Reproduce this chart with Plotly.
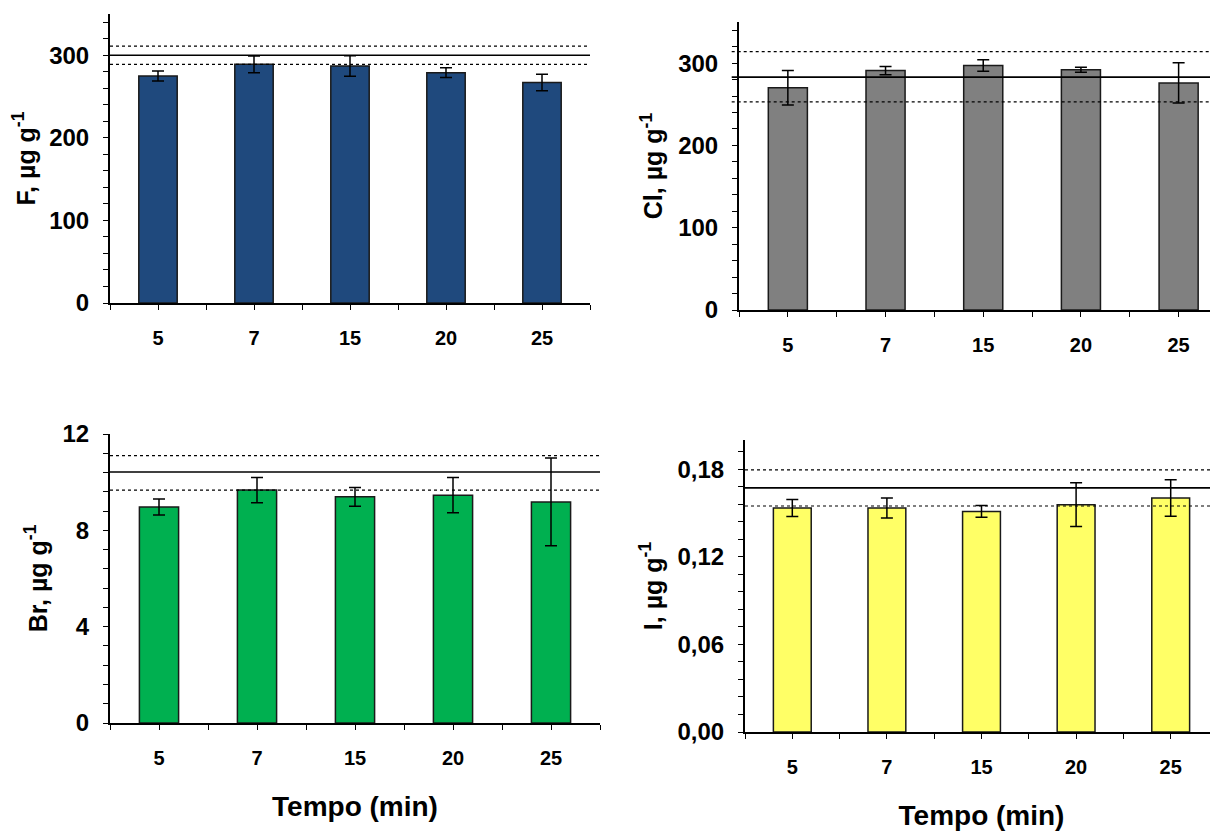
import plotly.graph_objects as go

categories = ["5", "7", "15", "20", "25"]

f_values = [275, 289, 287, 279, 267]
f_errors = [6, 10, 12.5, 6, 10]
f_ref = [300, 311, 289]

cl_values = [270, 291, 297, 292, 276]
cl_errors = [21, 5, 7, 3, 24.5]
cl_ref = [283, 314, 253]

br_values = [8.97, 9.67, 9.39, 9.46, 9.18]
br_errors = [0.33, 0.52, 0.39, 0.73, 1.82]
br_ref = [10.42, 11.1, 9.67]

i_values = [0.1534, 0.1534, 0.1511, 0.1557, 0.1603]
i_errors = [0.0058, 0.0068, 0.004, 0.015, 0.0125]
i_ref = [0.1672, 0.1795, 0.1548]

W, H = 1218, 831
FONT = "Liberation Sans, Arial, sans-serif"

# panel boxes in page pixels (the page body adds an 8 px offset)
panels = [
    dict(vals=f_values, errs=f_errors, ref=f_ref, color="#1F497D", title="F, µg g<sup>-1</sup>",
         xd=(102, 582), yd=(6, 295), xr=[-0.5, 4.5], yr=[0, 350], dtick=100, minor=20, fmt="d", xtitle=None, x0=0),
    dict(vals=cl_values, errs=cl_errors, ref=cl_ref, color="#808080", title="Cl, µg g<sup>-1</sup>",
         xd=(731, 1218), yd=(14, 302), xr=[-0.5, 4.485], yr=[0, 350], dtick=100, minor=20, fmt="d", xtitle=None, x0=-0.015),
    dict(vals=br_values, errs=br_errors, ref=br_ref, color="#00B050", title="Br, µg g<sup>-1</sup>",
         xd=(102, 592), yd=(426, 715), xr=[-0.5, 4.5], yr=[0, 12], dtick=4, minor=0.8, fmt="d", xtitle="Tempo (min)", x0=0),
    dict(vals=i_values, errs=i_errors, ref=i_ref, color="#FFFF66", title="I, µg g<sup>-1</sup>",
         xd=(737, 1210), yd=(432, 724), xr=[-0.5, 4.5], yr=[0, 0.2], dtick=0.06, minor=0.012, fmt=".2f", xtitle="Tempo (min)", x0=0),
]

fig = go.Figure()
xpos = list(range(len(categories)))

for k, p in enumerate(panels):
    n = "" if k == 0 else str(k + 1)
    fig.add_trace(go.Bar(
        x=xpos, y=p["vals"], width=0.4,
        marker=dict(color=p["color"], line=dict(color="#1a1a1a", width=1.5)),
        error_y=dict(type="data", array=p["errs"], visible=True, color="black", thickness=1.5, width=6),
        xaxis="x" + n, yaxis="y" + n, showlegend=False,
    ))
    # reference lines: certified value (solid) and limits (dotted)
    for j, v in enumerate(p["ref"]):
        fig.add_shape(type="line", xref=f"x{n} domain", yref="y" + n, x0=p["x0"], x1=1, y0=v, y1=v,
                      line=dict(color="black", width=1.6 if j == 0 else 1.2, dash="solid" if j == 0 else "dot"),
                      layer="above")
    xd = [p["xd"][0] / W, min(1.0, p["xd"][1] / W)]
    yd = [1 - p["yd"][1] / H, 1 - p["yd"][0] / H]
    xa = dict(domain=xd, range=p["xr"], anchor="y" + n, tickmode="array", tickvals=xpos, ticktext=categories,
              ticks="outside", ticklen=5, tickwidth=1, tickcolor="black", showline=True, linecolor="black",
              linewidth=2, showgrid=False, zeroline=False, ticklabelstandoff=11, automargin=False,
              minor=dict(tickmode="linear", tick0=-0.5, dtick=1, ticks="outside", ticklen=5, tickwidth=1,
                         tickcolor="black", showgrid=False),
              tickfont=dict(family=FONT, size=20, color="black", weight="bold"))
    if p["xtitle"]:
        xa["title"] = dict(text=p["xtitle"], font=dict(family=FONT, size=28, color="black", weight="bold"), standoff=28)
    ya = dict(domain=yd, range=p["yr"], anchor="x" + n, dtick=p["dtick"], tick0=0, tickformat=p["fmt"],
              ticks="outside", ticklen=5, tickwidth=1, tickcolor="black", showline=True, linecolor="black",
              linewidth=2, showgrid=False, zeroline=False, ticklabelstandoff=9, automargin=False,
              minor=dict(dtick=p["minor"], tick0=0, ticks="outside", ticklen=5, tickwidth=1, tickcolor="black", showgrid=False),
              tickfont=dict(family=FONT, size=24, color="black", weight="bold"),
              title=dict(text=p["title"], font=dict(family=FONT, size=25, color="black", weight="bold"), standoff=8))
    fig.layout["xaxis" + n] = xa
    fig.layout["yaxis" + n] = ya

fig.update_layout(
    width=W, height=H, margin=dict(l=0, r=0, t=0, b=0),
    paper_bgcolor="white", plot_bgcolor="white", separators=",.",
    font=dict(family=FONT, color="black"),
)

fig.write_html("out.html")
